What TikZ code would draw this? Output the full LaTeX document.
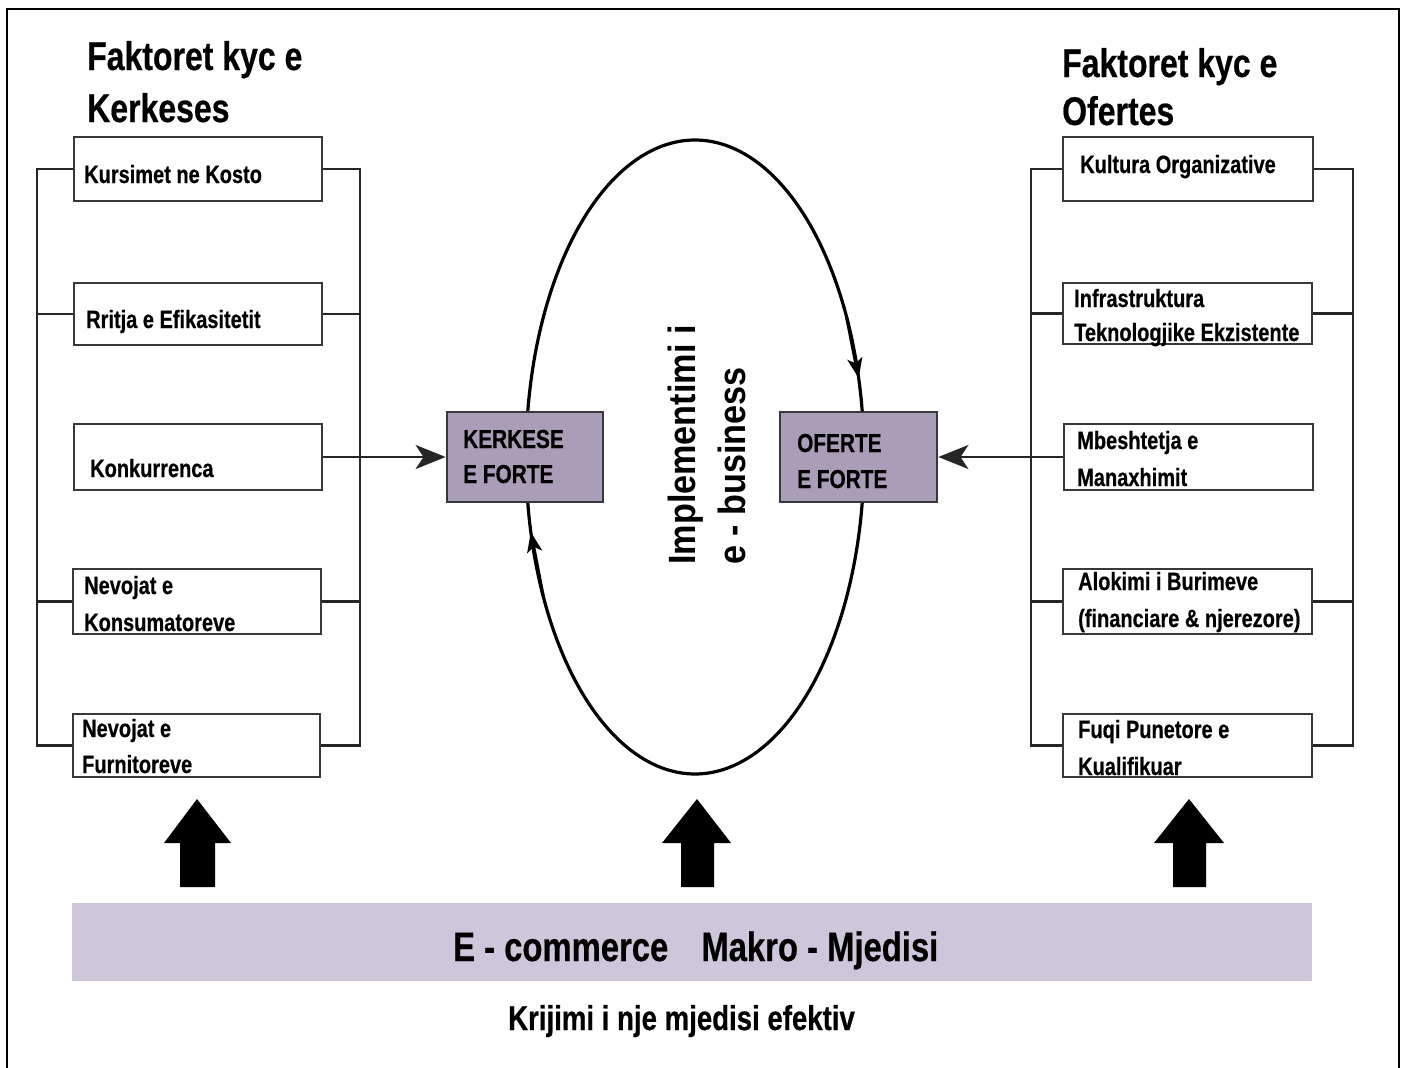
\documentclass[tikz,border=0pt]{standalone}
\usepackage{fontspec}
\setmainfont{Liberation Sans}
\newfontfamily\nbf[FakeStretch=0.8,FakeBold=0.5]{Liberation Sans}
\newfontfamily\vbf[FakeStretch=0.9]{Liberation Sans}
\usetikzlibrary{arrows.meta}
\definecolor{boxc}{RGB}{55,55,60}
\definecolor{cfill}{RGB}{169,157,183}
\definecolor{bandc}{RGB}{206,198,218}
\begin{document}
\begin{tikzpicture}[x=1pt,y=-1pt,
  fbox/.style={draw=boxc, line width=2.6pt, fill=white, minimum width=248pt, minimum height=64pt, inner sep=0pt},
  cbox/.style={draw=boxc, line width=2.8pt, fill=cfill, minimum width=156pt, minimum height=90pt, inner sep=0pt},
  btxt/.style={anchor=base west, inner sep=0pt, font={\nbf\bfseries\fontsize{25}{30}\selectfont}},
  ctxt/.style={anchor=base west, inner sep=0pt, font={\nbf\bfseries\fontsize{26}{30}\selectfont}},
  ttl/.style={anchor=base west, inner sep=0pt, font={\nbf\bfseries\fontsize{40}{48}\selectfont}},
  vtxt/.style={anchor=base west, inner sep=0pt, rotate=90, font={\vbf\bfseries\fontsize{38}{44}\selectfont}},
  brk/.style={draw=black!85, line width=2.6pt},
  conn/.style={draw=black!85, line width=2.6pt, -{Stealth[length=30pt,width=24pt,inset=8pt]}},
  loop/.style={draw=black, line width=3.2pt},
  looparr/.style={draw=black, line width=3.2pt, -{Stealth[length=20pt,width=15pt,inset=5pt]}},
  blk/.style={fill=black}
]
\useasboundingbox (0,0) rectangle (1403,1068);
\fill[white] (0,0) rectangle (1403,1068);
% frame
\draw[line width=2.2pt] (7,1072) -- (7,9) -- (1399,9) -- (1399,1072);

% ellipse loop
\draw[loop] plot[domain=0:360, samples=200, smooth, variable=\t] ({695+169*cos(\t)},{457+317*sin(\t)}) -- cycle;
\coordinate (ra1) at ({695+169*cos(334)},{457+317*sin(334)});
\coordinate (ra2) at ({695+169*cos(345.6)},{457+317*sin(345.6)});
\coordinate (la1) at ({695+169*cos(154)},{457+317*sin(154)});
\coordinate (la2) at ({695+169*cos(166.3)},{457+317*sin(166.3)});
\draw[looparr] (ra1) -- (ra2);
\draw[looparr] (la1) -- (la2);

% titles
\node[ttl] (tl1) at (87,70) {Faktoret kyc e};
\node[ttl] (tl2) at (87,122) {Kerkeses};
\node[ttl] (tr1) at (1062,77) {Faktoret kyc e};
\node[ttl] (tr2) at (1062,125) {Ofertes};

% left boxes
\node[fbox] (L1) at (198,169) {};
\node[fbox, minimum height=62pt] (L2) at (198,314) {};
\node[fbox, minimum height=66pt] (L3) at (198,457) {};
\node[fbox, minimum height=65pt] (L4) at (197,601.5) {};
\node[fbox, minimum width=247pt, minimum height=63pt] (L5) at (196.5,745.5) {};

% right boxes
\node[fbox, minimum width=250pt] (R1) at (1188,169) {};
\node[fbox, minimum width=249pt, minimum height=61pt] (R2) at (1187.5,313.5) {};
\node[fbox, minimum width=249pt, minimum height=66pt] (R3) at (1188.5,457) {};
\node[fbox, minimum width=249pt, minimum height=65pt] (R4) at (1187.5,601.5) {};
\node[fbox, minimum width=249pt, minimum height=63pt] (R5) at (1187.5,745.5) {};

% center boxes
\node[cbox] (K) at (525,457) {};
\node[cbox, minimum width=157pt] (O) at (858.5,457) {};

% bracket coordinates
\coordinate (lx) at (37,0);
\coordinate (lrx) at (360,0);
\coordinate (rlx) at (1031,0);
\coordinate (rx) at (1353,0);

% left brackets
\draw[brk] (L1.west) -- (L1.west -| lx) -- (L5.west -| lx) -- (L5.west);
\draw[brk] (L2.west) -- (L2.west -| lx);
\draw[brk] (L4.west) -- (L4.west -| lx);
\draw[brk] (L1.east) -- (L1.east -| lrx) -- (L5.east -| lrx) -- (L5.east);
\draw[brk] (L2.east) -- (L2.east -| lrx);
\draw[brk] (L4.east) -- (L4.east -| lrx);
\draw[conn] (L3.east) -- (K.west);

% right brackets
\draw[brk] (R1.west) -- (R1.west -| rlx) -- (R5.west -| rlx) -- (R5.west);
\draw[brk] (R2.west) -- (R2.west -| rlx);
\draw[brk] (R4.west) -- (R4.west -| rlx);
\draw[brk] (R1.east) -- (R1.east -| rx) -- (R5.east -| rx) -- (R5.east);
\draw[brk] (R2.east) -- (R2.east -| rx);
\draw[brk] (R4.east) -- (R4.east -| rx);
\draw[conn] (R3.west) -- (O.east);

% left box texts
\node[btxt] (t1) at (84,183) {Kursimet ne Kosto};
\node[btxt] (t2) at (86,328) {Rritja e Efikasitetit};
\node[btxt] (t3) at (90,477) {Konkurrenca};
\node[btxt] (t4a) at (84,594) {Nevojat e};
\node[btxt] (t4b) at (84,631) {Konsumatoreve};
\node[btxt] (t5a) at (82,737) {Nevojat e};
\node[btxt] (t5b) at (82,773) {Furnitoreve};

% right box texts
\node[btxt] (s1) at (1080,173) {Kultura Organizative};
\node[btxt] (s2a) at (1074,307) {Infrastruktura};
\node[btxt] (s2b) at (1074,341) {Teknologjike Ekzistente};
\node[btxt] (s3a) at (1077,449) {Mbeshtetja e};
\node[btxt] (s3b) at (1077,486) {Manaxhimit};
\node[btxt] (s4a) at (1078,590) {Alokimi i Burimeve};
\node[btxt] (s4b) at (1078,627) {(financiare \& njerezore)};
\node[btxt] (s5a) at (1078,738) {Fuqi Punetore e};
\node[btxt] (s5b) at (1078,775) {Kualifikuar};

% center texts
\node[ctxt] (k1) at (463,448) {KERKESE};
\node[ctxt] (k2) at (463,483) {E FORTE};
\node[ctxt] (o1) at (797,452) {OFERTE};
\node[ctxt] (o2) at (797,488) {E FORTE};
\node[vtxt] (v1) at (695,565) {Implementimi i};
\node[vtxt] (v2) at (745,565) {e - business};

% block arrows
\fill[blk] (197,799) -- (231,843) -- (215,843) -- (215,887) -- (180,887) -- (180,843) -- (164,843) -- cycle;
\fill[blk] (697,799) -- (731,843) -- (714,843) -- (714,887) -- (681,887) -- (681,843) -- (662,843) -- cycle;
\fill[blk] (1189,799) -- (1224,843) -- (1206,843) -- (1206,887) -- (1173,887) -- (1173,843) -- (1154,843) -- cycle;

% band
\node[fill=bandc, minimum width=1240pt, minimum height=78pt, inner sep=0pt] (band) at (692,942) {};
\node[anchor=base west, inner sep=0pt, font={\nbf\bfseries\fontsize{41}{48}\selectfont}] (bt) at (453,961) {E - commerce\hspace{24pt} Makro - Mjedisi};
\node[anchor=base west, inner sep=0pt, font={\nbf\bfseries\fontsize{34.5}{40}\selectfont}] (kt) at (508,1030) {Krijimi i nje mjedisi efektiv};
\end{tikzpicture}
\end{document}
